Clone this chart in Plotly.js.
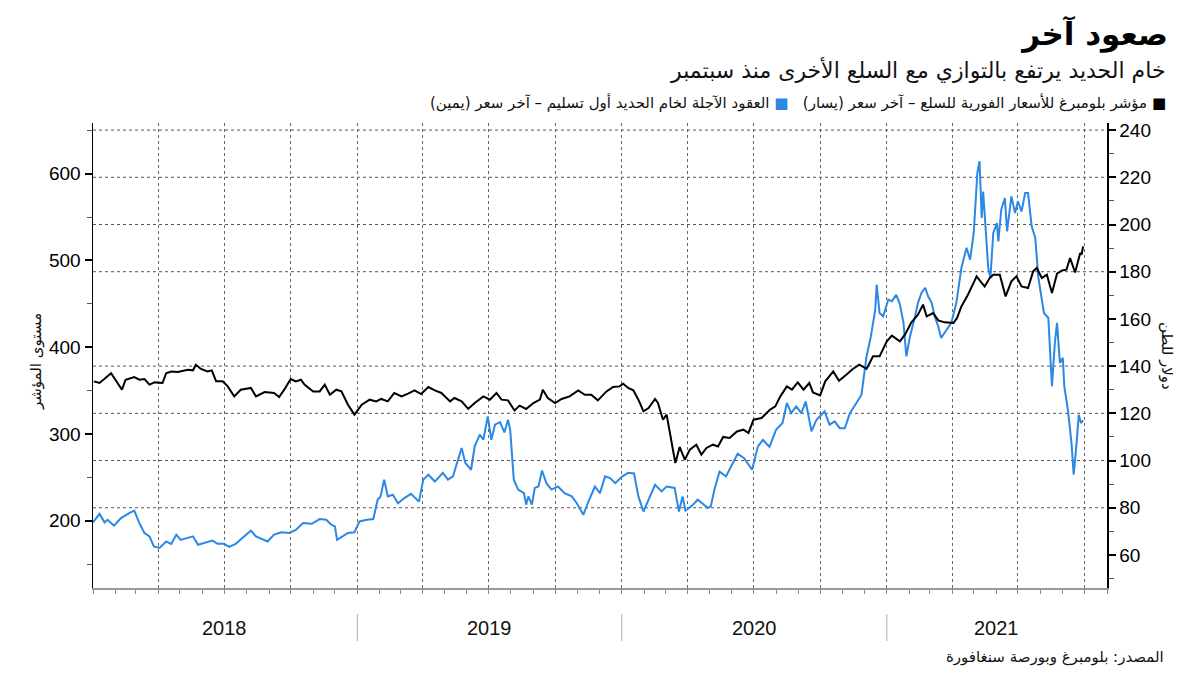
<!DOCTYPE html>
<html>
<head>
<meta charset="utf-8">
<script src="https://cdn.plot.ly/plotly-3.0.1.min.js"></script>
<style>html,body{margin:0;padding:0;background:#fff}#chart{width:1200px;height:675px}</style>
</head>
<body>
<div id="chart"></div>
<script>
// Bloomberg Spot Commodity Index – last price (left axis)
const indexDates = ["2018-01-02","2018-01-10","2018-01-26","2018-02-01","2018-02-10","2018-02-15","2018-02-27","2018-03-06","2018-03-13","2018-03-20","2018-03-27","2018-04-07","2018-04-12","2018-04-19","2018-04-28","2018-05-12","2018-05-19","2018-05-23","2018-05-30","2018-06-08","2018-06-14","2018-06-20","2018-06-29","2018-07-06","2018-07-15","2018-07-24","2018-08-07","2018-08-14","2018-08-26","2018-09-08","2018-09-15","2018-09-22","2018-10-01","2018-10-08","2018-10-15","2018-10-20","2018-11-01","2018-11-10","2018-11-17","2018-11-24","2018-12-03","2018-12-10","2018-12-19","2018-12-28","2019-01-07","2019-01-18","2019-01-27","2019-02-03","2019-02-12","2019-02-21","2019-03-03","2019-03-12","2019-03-21","2019-03-30","2019-04-09","2019-04-18","2019-04-27","2019-05-09","2019-05-15","2019-05-25","2019-06-03","2019-06-12","2019-06-24","2019-07-03","2019-07-12","2019-07-19","2019-07-28","2019-08-06","2019-08-13","2019-08-22","2019-09-01","2019-09-10","2019-09-14","2019-09-21","2019-10-01","2019-10-10","2019-10-21","2019-11-02","2019-11-11","2019-11-20","2019-11-29","2019-12-11","2019-12-20","2019-12-29","2020-01-03","2020-01-10","2020-01-17","2020-01-24","2020-01-31","2020-02-07","2020-02-16","2020-02-20","2020-02-27","2020-03-03","2020-03-07","2020-03-12","2020-03-15","2020-03-21","2020-03-28","2020-04-04","2020-04-13","2020-04-20","2020-04-27","2020-05-06","2020-05-13","2020-05-20","2020-05-29","2020-06-08","2020-06-17","2020-06-24","2020-07-01","2020-07-12","2020-07-24","2020-07-31","2020-08-07","2020-08-16","2020-08-23","2020-08-31","2020-09-08","2020-09-16","2020-09-21","2020-10-01","2020-10-08","2020-10-19","2020-10-27","2020-11-06","2020-11-15","2020-11-24","2020-12-04","2020-12-13","2020-12-22","2021-01-01","2021-01-08","2021-01-19","2021-01-26","2021-02-04","2021-02-13","2021-02-20","2021-02-25","2021-03-06","2021-03-13","2021-03-22","2021-04-03","2021-04-08","2021-04-14","2021-04-23","2021-05-05","2021-05-12","2021-05-16","2021-05-23","2021-05-28","2021-06-06","2021-06-14","2021-06-22","2021-06-29","2021-07-06","2021-07-15","2021-07-22","2021-07-27","2021-08-03","2021-08-10","2021-08-17","2021-08-24","2021-08-31","2021-09-06","2021-09-11","2021-09-18","2021-09-25","2021-09-27","2021-09-29"];
const indexValues = [360.6,358.7,370,362.5,351,362.5,365.6,362.5,363.3,356.8,359.4,358.7,370,372,371.4,374,373.3,379.8,374.9,372,373.3,360.6,360.6,354.8,343.3,351,353,343.3,348.3,347.2,342.6,351,363.3,360.6,362.5,356.8,349,349,356.8,345.2,351,349,333.7,322.2,333.7,339.5,337.5,340.3,337.5,347.2,343.3,346.4,350.2,346,354.1,350.2,347.2,337.5,341.4,337.5,328.8,335.6,343.3,339.5,347.2,339.5,338.7,327.1,332.6,328.8,335.6,339.5,351,341.4,335.6,340.3,343.3,350.2,345.2,345.2,338.7,349,354.1,354.8,357.9,353,350.2,339.5,326,329.9,340.3,335.6,316.4,322.2,304.9,281.8,266.5,285,270.3,281.8,287.6,276.1,283.8,287.6,285.6,296.5,295.3,302.9,304.9,301.1,316.4,318.4,328,331.8,343.3,354.8,351,359.4,351,358.7,347.9,344.4,360.6,372,361.4,368.3,374.9,379.8,374.9,389.4,389.4,406.7,413.3,406.7,414.4,428.6,437.5,449,435.5,439.4,430.9,428.6,427.9,433.7,447,460.5,481.6,474,470,479.7,483.6,483.6,458.5,475.9,481.6,470,468.2,487.4,491.3,479.7,483.6,462.5,484.7,488.5,489.3,502.8,486.2,508.6,506.6,516.2];

// SGX iron ore front-month futures – last price (right axis, USD/t)
const oreDates = ["2018-01-01","2018-01-10","2018-01-17","2018-01-21","2018-01-30","2018-02-09","2018-02-20","2018-02-27","2018-03-06","2018-03-13","2018-03-20","2018-03-26","2018-04-03","2018-04-12","2018-04-19","2018-04-26","2018-05-02","2018-05-12","2018-05-19","2018-05-26","2018-06-06","2018-06-15","2018-06-22","2018-07-01","2018-07-08","2018-07-17","2018-07-29","2018-08-07","2018-08-14","2018-08-30","2018-09-08","2018-09-18","2018-09-29","2018-10-08","2018-10-18","2018-10-30","2018-11-10","2018-11-19","2018-11-26","2018-12-01","2018-12-04","2018-12-12","2018-12-19","2018-12-28","2019-01-04","2019-01-14","2019-01-23","2019-01-29","2019-02-02","2019-02-07","2019-02-12","2019-02-19","2019-02-26","2019-03-07","2019-03-16","2019-03-27","2019-04-02","2019-04-09","2019-04-18","2019-04-29","2019-05-06","2019-05-13","2019-05-20","2019-05-25","2019-05-30","2019-06-07","2019-06-12","2019-06-19","2019-06-24","2019-06-30","2019-07-05","2019-07-10","2019-07-17","2019-07-23","2019-07-28","2019-07-31","2019-08-05","2019-08-11","2019-08-19","2019-08-22","2019-08-25","2019-08-30","2019-09-03","2019-09-08","2019-09-13","2019-09-19","2019-09-26","2019-10-05","2019-10-14","2019-10-24","2019-10-31","2019-11-09","2019-11-16","2019-11-25","2019-12-02","2019-12-09","2019-12-16","2019-12-23","2020-01-02","2020-01-10","2020-01-18","2020-01-24","2020-01-31","2020-02-07","2020-02-16","2020-02-25","2020-03-03","2020-03-14","2020-03-20","2020-03-25","2020-03-29","2020-04-06","2020-04-15","2020-04-29","2020-05-03","2020-05-08","2020-05-15","2020-05-24","2020-06-01","2020-06-09","2020-06-18","2020-06-29","2020-07-07","2020-07-14","2020-07-23","2020-08-01","2020-08-10","2020-08-16","2020-08-22","2020-08-29","2020-09-05","2020-09-11","2020-09-19","2020-09-26","2020-10-07","2020-10-14","2020-10-21","2020-10-28","2020-11-04","2020-11-11","2020-11-20","2020-11-27","2020-12-01","2020-12-04","2020-12-10","2020-12-13","2020-12-16","2020-12-18","2020-12-22","2020-12-27","2021-01-03","2021-01-08","2021-01-14","2021-01-19","2021-01-24","2021-01-28","2021-02-02","2021-02-09","2021-02-13","2021-02-18","2021-02-23","2021-02-27","2021-03-04","2021-03-08","2021-03-13","2021-03-17","2021-03-24","2021-03-31","2021-04-07","2021-04-14","2021-04-21","2021-04-26","2021-05-01","2021-05-06","2021-05-09","2021-05-12","2021-05-14","2021-05-18","2021-05-21","2021-05-24","2021-05-28","2021-06-02","2021-06-04","2021-06-08","2021-06-13","2021-06-16","2021-06-22","2021-06-27","2021-07-01","2021-07-06","2021-07-11","2021-07-15","2021-07-20","2021-07-25","2021-07-29","2021-08-03","2021-08-06","2021-08-12","2021-08-17","2021-08-21","2021-08-24","2021-08-28","2021-09-01","2021-09-03","2021-09-08","2021-09-13","2021-09-16","2021-09-20","2021-09-23","2021-09-26","2021-09-29"];
const oreValues = [73.8,77.4,73.8,74.9,72.4,75.7,77.7,78.8,73.5,69.3,67.9,63.6,63.0,65.7,64.7,68.6,66.4,67.2,67.9,64.3,65.3,66.1,64.7,64.7,63.4,64.7,67.9,70.3,67.9,65.7,68.6,69.6,69.3,70.6,73.5,73.2,75.2,74.9,72.8,72.1,66.4,67.9,69.3,69.6,74.2,74.9,75.2,83.4,84.8,91.9,84.8,85.5,81.9,84.1,85.9,82.6,91.9,94.0,91.1,94.8,91.9,93.3,100.4,105.3,99.0,96.1,106.0,111.0,108.8,118.7,108.8,115.2,116.3,111.9,117.3,113.0,91.9,87.7,86.2,81.3,84.8,81.3,88.4,89.0,95.8,90.4,87.7,89.0,86.2,84.8,81.9,77.0,82.6,89.0,86.2,93.3,92.6,90.4,93.3,94.8,94.5,84.8,78.4,83.4,89.7,86.9,89.0,88.4,78.4,84.8,78.8,80.6,83.4,79.9,80.7,87.7,95.3,93.3,98.2,102.9,101.0,96.1,106.0,108.8,105.8,113.0,115.9,124.4,120.1,122.9,120.1,125.0,112.4,117.3,120.8,115.2,116.6,113.7,113.7,120.1,124.4,127.9,137.1,144.1,152.6,157.5,163.9,174.5,162.5,161.1,168.2,167.5,170.2,166.3,158.3,144.1,152.6,161.1,166.8,171.1,173.2,169.6,166.8,161.1,156.8,151.9,155.4,158.3,166.8,181.7,190.1,185.1,196.4,221.9,226.8,202.8,214.0,196.4,181.7,177.3,196.4,200.6,192.8,206.3,211.2,197.1,211.9,204.9,209.8,205.5,213.3,213.3,199.2,194.3,178.0,168.2,162.5,160.4,131.5,149.8,158.3,141.3,143.5,131.5,121.5,107.4,94.0,107.4,119.4,115.9,117.0];

const years = ["2018","2019","2020","2021"];

const title = "صعود آخر";
const subtitle = "خام الحديد يرتفع بالتوازي مع السلع الأخرى منذ سبتمبر";
const legendIndex = "مؤشر بلومبرغ للأسعار الفورية للسلع – آخر سعر (يسار)";
const legendOre = "العقود الآجلة لخام الحديد أول تسليم – آخر سعر (يمين)";
const leftTitle = "مستوى المؤشر";
const rightTitle = "دولار للطن";
const source = "المصدر: بلومبرغ وبورصة سنغافورة";

const BLACK = "#000000";
const BLUE = "#2b88e4";
const AR = "DejaVu Sans, Noto Sans, sans-serif";
const NUM = "Liberation Sans, Arial, sans-serif";

const xRange = ["2018-01-01", "2021-11-01"];

// plot area in pixels: x 93..1107, y 123..588
const L = 93, R = 1107, T = 123, B = 588;
const px = x => (x - L) / (R - L);
const py = y => (B - y) / (B - T);

const traces = [
  {x: oreDates, y: oreValues, type: "scatter", mode: "lines", yaxis: "y",
   line: {color: BLUE, width: 2}, hoverinfo: "skip", showlegend: false},
  {x: indexDates, y: indexValues, type: "scatter", mode: "lines", yaxis: "y2",
   line: {color: BLACK, width: 2}, hoverinfo: "skip", showlegend: false}
];

const shapes = [];
[80, 100, 120, 140, 180, 200, 220, 240].forEach(v => shapes.push({
  type: "line", xref: "paper", x0: 0, x1: 1, yref: "y", y0: v, y1: v,
  line: {color: "#555", width: 1, dash: "dot"}, layer: "below"
}));
years.slice(1).forEach(yr => shapes.push({
  type: "line", xref: "x", x0: yr + "-01-01", x1: yr + "-01-01",
  yref: "paper", y0: py(614), y1: py(641),
  line: {color: "#b0b0b0", width: 1}
}));

const t0 = Date.parse(xRange[0]), t1 = Date.parse(xRange[1]);
const annotations = years.map(yr => {
  const a = Math.max(Date.parse(yr + "-01-01"), t0);
  const b = Math.min(Date.parse((+yr + 1) + "-01-01"), t1);
  const mid = new Date((a + b) / 2).toISOString().slice(0, 10);
  return {xref: "x", x: mid, yref: "paper", y: py(628), text: yr, showarrow: false,
    xanchor: "center", yanchor: "middle", font: {family: NUM, size: 20, color: "#111"}};
});

annotations.push(
  {xref: "paper", x: px(1168), yref: "paper", y: py(70), text: subtitle, showarrow: false,
   xanchor: "right", yanchor: "middle", font: {family: AR, size: 22, color: "#111"}},
  {xref: "paper", x: px(1168), yref: "paper", y: py(102),
   text: legendOre + "\u200F <span style='color:" + BLUE + "'>■</span>\u200E   " +
         legendIndex + "\u200F <span style='color:" + BLACK + "'>■</span>",
   showarrow: false, xanchor: "right", yanchor: "middle",
   font: {family: AR, size: 15, color: "#111"}},
  {xref: "paper", x: px(36), yref: "paper", y: py(362), text: leftTitle, textangle: -90,
   showarrow: false, xanchor: "center", yanchor: "middle",
   font: {family: AR, size: 15, color: "#111"}},
  {xref: "paper", x: px(1167), yref: "paper", y: py(356), text: rightTitle, textangle: 90,
   showarrow: false, xanchor: "center", yanchor: "middle",
   font: {family: AR, size: 15, color: "#111"}},
  {xref: "paper", x: px(1166), yref: "paper", y: py(657), text: source, showarrow: false,
   xanchor: "right", yanchor: "middle", font: {family: AR, size: 15, color: "#111"}}
);

const layout = {
  width: 1200, height: 675,
  margin: {l: L, r: 1200 - R, t: T, b: 675 - B, pad: 0},
  paper_bgcolor: "#fff", plot_bgcolor: "#fff",
  showlegend: false,
  title: {text: "<b>" + title + "</b>", xref: "container", x: 1168 / 1200, xanchor: "right",
          yref: "container", y: 1 - 34 / 675, yanchor: "middle",
          font: {family: AR, size: 31, color: "#000"}},
  xaxis: {
    type: "date", range: xRange, tick0: "2018-01-01", dtick: "M3",
    showgrid: true, gridcolor: "#666", griddash: "dot", gridwidth: 1,
    ticks: "outside", ticklen: 4, tickcolor: "#888", tickwidth: 1,
    showticklabels: false, showline: true, linecolor: "#999", linewidth: 1.5,
    zeroline: false,
    minor: {tick0: "2018-01-01", dtick: "M1", ticks: "outside", ticklen: 4, tickcolor: "#888", showgrid: false}
  },
  yaxis: {
    side: "right", range: [46, 243], tick0: 0, dtick: 20,
    ticks: "outside", ticklen: 7, tickwidth: 2, tickcolor: "#000",
    showline: true, linecolor: "#000", linewidth: 1.5, showgrid: false, zeroline: false,
    tickfont: {family: NUM, size: 19, color: "#000"},
    minor: {dtick: 10, ticks: "outside", ticklen: 5, tickcolor: "#555", tickwidth: 1, showgrid: false}
  },
  yaxis2: {
    overlaying: "y", side: "left", range: [122.4, 658.4], tick0: 0, dtick: 100,
    ticks: "outside", ticklen: 7, tickwidth: 2, tickcolor: "#000",
    showline: true, linecolor: "#000", linewidth: 1.5, showgrid: false, zeroline: false,
    tickfont: {family: NUM, size: 19, color: "#000"},
    minor: {dtick: 50, ticks: "outside", ticklen: 5, tickcolor: "#555", tickwidth: 1, showgrid: false}
  },
  shapes: shapes,
  annotations: annotations
};

Plotly.newPlot("chart", traces, layout, {staticPlot: true, displayModeBar: false});
</script>
</body>
</html>
